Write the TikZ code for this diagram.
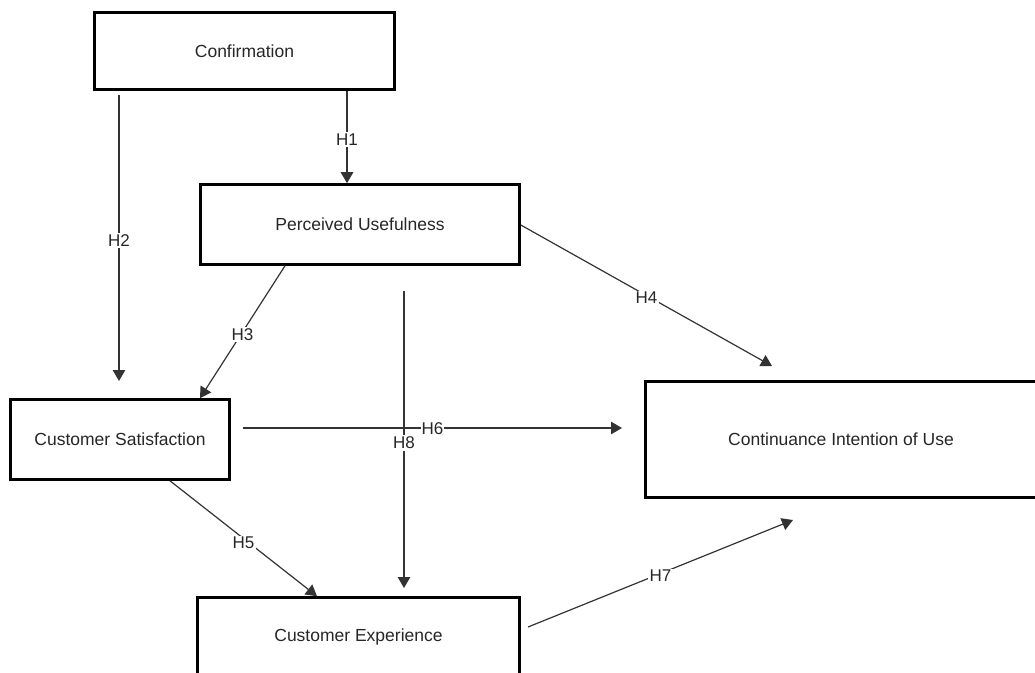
\documentclass[tikz,border=0pt]{standalone}
\usepackage{fontspec}
\setmainfont{Liberation Sans}
\usetikzlibrary{arrows.meta,calc}
\begin{document}
\begin{tikzpicture}[x=1pt,y=-1pt,
  box/.style={draw=black,line width=2.6pt,rectangle,inner sep=0pt,
    text=black!85,font=\fontsize{17.5}{21}\selectfont},
  conn/.style={draw=black!80,line width=1.2pt,-{Triangle[width=12.5pt,length=11pt]}},
  hlab/.style={fill=white,inner sep=1.5pt,yshift=-2.5pt,text=black!85,font=\fontsize{17}{20}\selectfont}]
\useasboundingbox (0,0) rectangle (1035,672);
\clip (0,0) rectangle (1035,672);
% boxes
\node[box,minimum width=300pt,minimum height=77pt] (conf) at (244.5,51) {Confirmation};
\node[box,minimum width=319pt,minimum height=80pt] (pu) at (360,224.5) {Perceived Usefulness};
\node[box,minimum width=219pt,minimum height=80pt] (sat) at (120,439.5) {Customer Satisfaction};
\node[box,minimum width=391pt,minimum height=116pt] (ci) at (841,439.5) {Continuance Intention of Use};
\node[box,minimum width=322pt,minimum height=79pt] (ce) at (358.5,637) {Customer Experience};
% reference columns / rows
\coordinate (x347) at (347,0);
\coordinate (x285) at (285,0);
\coordinate (x200) at (200,0);
\coordinate (x170) at (170,0);
\coordinate (x317) at (317,0);
\coordinate (y225) at (0,225);
% connector ends
\coordinate (h2a) at (119,95);
\coordinate (h2b) at (119,381);
\coordinate (h8a) at (404,291);
\coordinate (h8b) at (404,588);
\coordinate (h6a) at (243,428);
\coordinate (h6b) at (622,428);
\coordinate (h4b) at (772,366);
\coordinate (h7a) at (528,627);
\coordinate (h7b) at (793,520);
% connectors
\draw[conn] (conf.south -| x347) -- node[hlab]{H1} (pu.north -| x347);
\draw[conn] (h2a) -- node[hlab]{H2} (h2b);
\draw[conn] (pu.south -| x285) -- node[hlab]{H3} (sat.north -| x200);
\draw[conn] (pu.east |- y225) -- node[hlab]{H4} (h4b);
\draw[conn] (sat.south -| x170) -- node[hlab,yshift=-2pt]{H5} (ce.north -| x317);
\draw[conn] (h6a) -- node[hlab,inner sep=1pt,yshift=1.5pt]{H6} (h6b);
\draw[conn] (h8a) -- node[hlab,yshift=-1pt]{H8} (h8b);
\draw[conn] (h7a) -- node[hlab]{H7} (h7b);
\end{tikzpicture}
\end{document}
